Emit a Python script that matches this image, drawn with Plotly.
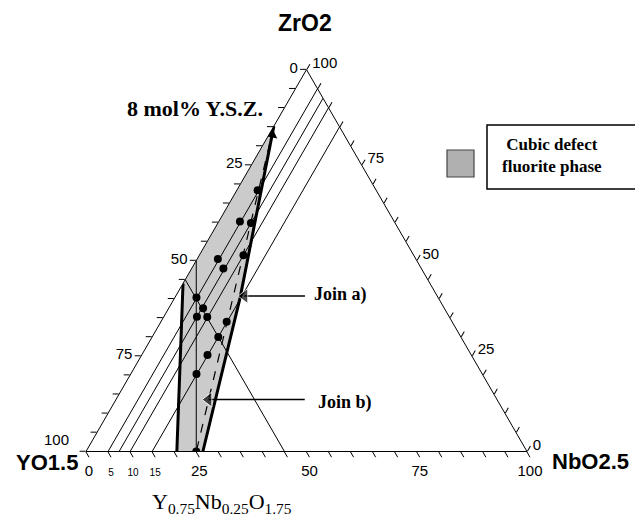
import plotly.graph_objects as go

W, H = 635, 524

# ---- data (mol %) : a = ZrO2, b = YO1.5, c = NbO2.5 ----
dot_zr = [68.4, 60.2, 59.8, 50.4, 51.4, 47.9, 40.3, 37.5, 35.3, 35.2, 34.0, 30.0, 25.3, 20.3, 0.0]
dot_y  = [26.9, 35.0, 32.7, 44.9, 38.6, 44.9, 54.8, 54.7, 57.2, 54.9, 51.1, 55.0, 59.8, 64.8, 75.0]
dot_nb = [4.7, 4.8, 7.5, 4.7, 10.0, 7.2, 4.9, 7.8, 7.5, 9.9, 14.9, 15.0, 14.9, 14.9, 25.0]

nb_lines = [5, 7.5, 10, 15]          # constant NbO2.5 lines
y_line = 55                           # constant YO1.5 line
charge_zr = [50, 0]                   # Y - Nb = 50 join
charge_y = [50, 75]
charge_nb = [0, 25]

region_zr = [85.2, 44.0, 0.0, 0.0, 40.3]
region_y  = [14.8, 56.0, 79.4, 73.5, 44.9]
region_nb = [0.0, 0.0, 20.6, 26.5, 14.8]

left_bd_zr = [44.0, 0.0]; left_bd_y = [56.0, 79.4]; left_bd_nb = [0.0, 20.6]
right_bd_zr = [85.2, 40.3, 0.0]; right_bd_y = [14.8, 44.9, 73.5]; right_bd_nb = [0.0, 14.8, 26.5]
ysz_zr = [85.2, 0.0]; ysz_y = [14.8, 75.0]; ysz_nb = [0.0, 25.0]

join_a_zr = [40.7, 40.7]; join_a_nb = [15.6, 29.3]
join_b_zr = [13.6, 13.6]; join_b_nb = [21.0, 42.8]

tick_vals = list(range(0, 101, 5))
left_labels = [0, 25, 50, 75]          # "100" at the YO1.5 corner added as text below
bottom_labels = [0, 5, 10, 15, 25, 50, 75, 100]
right_labels = [0, 25, 50, 75, 100]

def txt(v, shown, small=()):
    w = 100 - v
    if w in shown:
        if w in small:
            return "<span style='font-size:10px'>%d</span>" % w
        return str(w)
    return " "

fig = go.Figure()

def tern(a, b, c, **kw):
    fig.add_trace(go.Scatterternary(a=a, b=b, c=c, hoverinfo="skip", showlegend=False, **kw))

# shaded region
tern(region_zr, region_y, region_nb, mode="lines", fill="toself",
     fillcolor="#cbcbcb", line=dict(width=0))

# constant Nb lines
for n in nb_lines:
    tern([0, 100 - n], [100 - n, 0], [n, n], mode="lines", line=dict(color="black", width=1))
# constant Y line
tern([100 - y_line, 0], [y_line, y_line], [0, 100 - y_line], mode="lines",
     line=dict(color="black", width=1))
# charge-balanced join
tern(charge_zr, charge_y, charge_nb, mode="lines", line=dict(color="black", width=1))
# YSZ -> Y0.75Nb0.25O1.75 dashed
tern(ysz_zr, ysz_y, ysz_nb, mode="lines", line=dict(color="black", width=1.2, dash="dash"))
# thick boundaries
tern(left_bd_zr, left_bd_y, left_bd_nb, mode="lines", line=dict(color="black", width=3))
tern(right_bd_zr, right_bd_y, right_bd_nb, mode="lines", line=dict(color="black", width=3))
# arrowhead at YSZ tip
tern([83.0], [16.4], [0.6], mode="markers",
     marker=dict(symbol="triangle-up", size=11, angle=12, color="black"))

# join arrows
for zr, nb in [(join_a_zr, join_a_nb), (join_b_zr, join_b_nb)]:
    yv = [100 - zr[i] - nb[i] for i in range(2)]
    tern(zr, yv, nb, mode="lines+markers", line=dict(color="black", width=1.5),
         marker=dict(symbol=["triangle-left", "circle"], size=[13, 0], color="black"))

# data points
tern(dot_zr, dot_y, dot_nb, mode="markers", marker=dict(color="black", size=8))

tickfont = dict(family="Liberation Sans Narrow, Liberation Sans, Arial", size=15, color="black")
axis_common = dict(showgrid=False, ticks="outside", ticklen=6, tickcolor="black",
                   linecolor="black", linewidth=1, tickvals=tick_vals, tickfont=tickfont,
                   title=dict(text=""), min=0)

fig.update_layout(
    width=W, height=H, margin=dict(l=0, r=0, t=0, b=0),
    paper_bgcolor="white", plot_bgcolor="white",
    ternary=dict(
        sum=100, bgcolor="white",
        domain=dict(x=[86 / W, 527 / W], y=[1 - 451.5 / H, 1 - 69.6 / H]),
        aaxis=dict(axis_common, ticktext=[txt(v, left_labels) for v in tick_vals]),
        baxis=dict(axis_common, ticktext=[txt(v, bottom_labels, small=(5, 10, 15)) for v in tick_vals]),
        caxis=dict(axis_common, ticktext=[txt(v, right_labels) for v in tick_vals]),
    ),
)

def ann(text, px, py, size, family, bold=False, xanchor="center"):
    fig.add_annotation(text=("<b>%s</b>" % text) if bold else text, x=px / W, y=1 - py / H,
                       xref="paper", yref="paper", showarrow=False, xanchor=xanchor,
                       yanchor="middle", font=dict(size=size, family=family, color="black"))

sans = "Liberation Sans, Arial"
serif = "Liberation Serif, Times New Roman"
ann("ZrO2", 305, 23, 23, sans, True)
ann("100", 56, 439, 15, "Liberation Sans Narrow, Liberation Sans, Arial")
ann("YO1.5", 47, 463, 22, sans, True)
ann("NbO2.5", 590, 461, 22, sans, True)
ann("8 mol% Y.S.Z.", 195, 108, 22, serif, True)
ann("Join a)", 312, 294, 18, serif, True, "left")
ann("Join b)", 316, 402, 18, serif, True, "left")
ann("Y<sub>0.75</sub>Nb<sub>0.25</sub>O<sub>1.75</sub>", 222, 503, 22, serif)
ann("Cubic defect<br>fluorite phase", 500, 155, 17, serif, True, "left")

fig.add_shape(type="rect", xref="paper", yref="paper", x0=487 / W, x1=645 / W,
              y0=1 - 189 / H, y1=1 - 125 / H, line=dict(color="black", width=1.5))
fig.add_shape(type="rect", xref="paper", yref="paper", x0=447 / W, x1=474 / W,
              y0=1 - 177 / H, y1=1 - 150 / H, line=dict(color="#444", width=1.2),
              fillcolor="#b0b0b0")

fig.write_html("out.html")
